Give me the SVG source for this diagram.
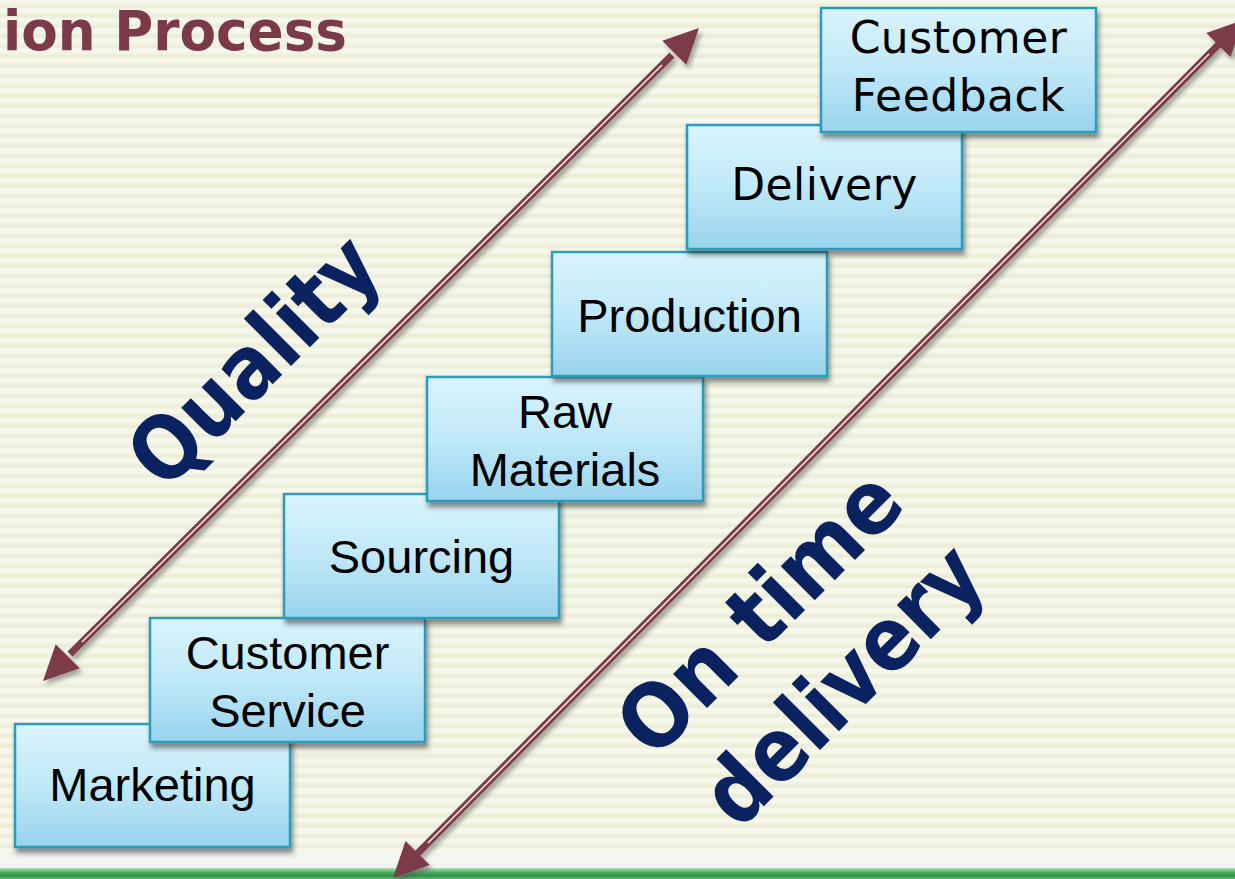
<svg xmlns="http://www.w3.org/2000/svg" width="1235" height="879" viewBox="0 0 1235 879">
  <defs>
    <linearGradient id="stripe" x1="0" y1="0" x2="0" y2="1">
      <stop offset="0" stop-color="#f8f9f0"/>
      <stop offset="0.35" stop-color="#f2f4e3"/>
      <stop offset="0.6" stop-color="#eaecd6"/>
      <stop offset="0.85" stop-color="#f3f4e6"/>
      <stop offset="1" stop-color="#f8f9f0"/>
    </linearGradient>
    <pattern id="bgpat" x="0" y="0" width="1235" height="10" patternUnits="userSpaceOnUse">
      <rect x="0" y="0" width="1235" height="10" fill="url(#stripe)"/>
    </pattern>
    <linearGradient id="boxfill" x1="0" y1="0" x2="0" y2="1">
      <stop offset="0" stop-color="#daf4fd"/>
      <stop offset="0.5" stop-color="#c0e8f8"/>
      <stop offset="1" stop-color="#98d3ed"/>
    </linearGradient>
    <linearGradient id="green" x1="0" y1="0" x2="0" y2="1">
      <stop offset="0" stop-color="#b8e0b8"/>
      <stop offset="0.4" stop-color="#4fae5f"/>
      <stop offset="0.7" stop-color="#2f8f4a"/>
      <stop offset="1" stop-color="#5dbb70"/>
    </linearGradient>
    <filter id="shadow" x="-10%" y="-10%" width="125%" height="130%">
      <feDropShadow dx="2" dy="5" stdDeviation="2.5" flood-color="#333" flood-opacity="0.55"/>
    </filter>
    <filter id="ashadow" x="-10%" y="-10%" width="125%" height="125%">
      <feDropShadow dx="3" dy="4" stdDeviation="2" flood-color="#555" flood-opacity="0.5"/>
    </filter>
  </defs>
  <style>
    .box { fill: url(#boxfill); stroke: #2c9dbc; stroke-width: 2.5; }
    .lbl { font-family: "Liberation Sans", Arial, sans-serif; font-size: 47px; fill: #000; text-anchor: middle; }
    .lbl2 { font-family: "DejaVu Sans", "Verdana", sans-serif; font-size: 44px; fill: #000; text-anchor: middle; letter-spacing: 0.5px; }
    .big { font-family: "DejaVu Sans", sans-serif; font-weight: bold; font-size: 88px; fill: #0b2260; text-anchor: middle; }
    .title { font-family: "DejaVu Sans", sans-serif; font-weight: bold; font-size: 55px; fill: #7b3a4a; }
    .shaft { stroke: #7b3a4a; stroke-width: 7; fill: none; }
    .inner { stroke: #efe6dc; stroke-width: 1.6; fill: none; }
    .head { fill: #7b3a4a; }
  </style>

  <rect x="0" y="0" width="1235" height="879" fill="url(#bgpat)"/>
  <rect x="0" y="852" width="1235" height="16" fill="#f4f6f4" opacity="0.8"/>
  <rect x="0" y="868" width="1235" height="11" fill="url(#green)"/>

  <text class="title" x="3" y="50" textLength="344" lengthAdjust="spacingAndGlyphs">ion Process</text>

  <g id="connectors">
    <g id="quality-arrow" filter="url(#ashadow)">
      <line class="shaft" x1="70" y1="654" x2="672" y2="55"/>
      <line class="inner" x1="82" y1="642" x2="662" y2="65"/>
      <polygon class="head" points="699,28 686.3,64.7 662.3,40.7"/>
      <polygon class="head" points="43,681 55.7,644.3 79.7,668.3"/>
    </g>
    <g id="ontime-arrow" filter="url(#ashadow)">
      <line class="shaft" x1="415" y1="856" x2="1221" y2="42"/>
      <line class="inner" x1="428" y1="843" x2="1209" y2="54"/>
      <polygon class="head" points="393,878 405.5,841.1 429.7,865.1"/>
      <polygon class="head" points="1243,20 1206.3,32.9 1230.5,56.9"/>
    </g>
  </g>

  <g id="label-quality">
    <text class="big" x="275" y="382" transform="rotate(-45 275 382)" textLength="312" lengthAdjust="spacingAndGlyphs">Quality</text>
  </g>
  <g id="label-ontime">
    <text class="big" x="781" y="634" transform="rotate(-45 781 634)" textLength="360" lengthAdjust="spacingAndGlyphs">On time</text>
    <text class="big" x="864" y="706" transform="rotate(-45 864 706)" textLength="354" lengthAdjust="spacingAndGlyphs">delivery</text>
  </g>

  <g id="node-marketing">
    <rect class="box" x="15" y="724" width="275" height="123" filter="url(#shadow)"/>
    <text class="lbl" x="152.5" y="801">Marketing</text>
  </g>
  <g id="node-customer-service">
    <rect class="box" x="150" y="618" width="275" height="124" filter="url(#shadow)"/>
    <text class="lbl" x="287.5" y="669">Customer</text>
    <text class="lbl" x="287.5" y="727">Service</text>
  </g>
  <g id="node-sourcing">
    <rect class="box" x="284" y="494" width="275" height="124" filter="url(#shadow)"/>
    <text class="lbl" x="421.5" y="573">Sourcing</text>
  </g>
  <g id="node-raw-materials">
    <rect class="box" x="427" y="377" width="276" height="124" filter="url(#shadow)"/>
    <text class="lbl" x="565" y="428">Raw</text>
    <text class="lbl" x="565" y="486">Materials</text>
  </g>
  <g id="node-production">
    <rect class="box" x="552" y="252" width="275" height="124" filter="url(#shadow)"/>
    <text class="lbl" x="689.5" y="332">Production</text>
  </g>
  <g id="node-delivery">
    <rect class="box" x="687" y="125" width="275" height="124" filter="url(#shadow)"/>
    <text class="lbl2" x="824.5" y="200">Delivery</text>
  </g>
  <g id="node-customer-feedback">
    <rect class="box" x="821" y="8" width="275" height="124" filter="url(#shadow)"/>
    <text class="lbl2" x="958.5" y="53">Customer</text>
    <text class="lbl2" x="958.5" y="111">Feedback</text>
  </g>
</svg>
